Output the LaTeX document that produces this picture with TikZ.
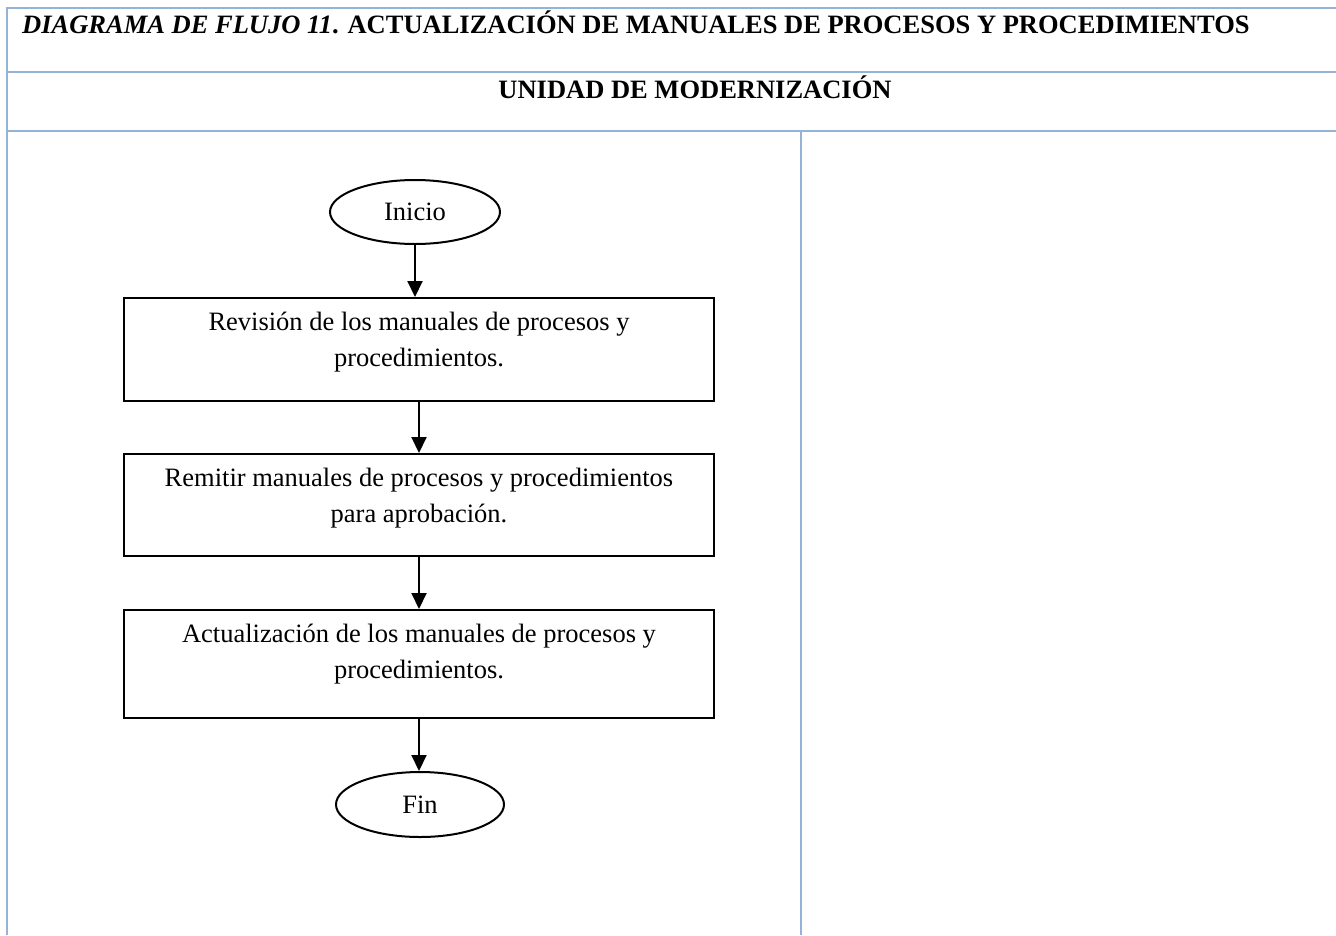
\documentclass[tikz,border=0pt]{standalone}
\usepackage{fontspec}
\setmainfont{Liberation Serif}
\usetikzlibrary{arrows.meta,shapes.geometric}
\definecolor{gridblue}{RGB}{149,179,215}
\tikzset{
  gridline/.style={draw=gridblue,line width=2.5pt},
  terminal/.style={ellipse,draw,line width=2pt,inner sep=0pt,font=\fontsize{26.5}{36}\selectfont},
  stepbox/.style={draw,line width=2pt,inner sep=0pt,font=\fontsize{26.5}{36}\selectfont},
  flow/.style={draw,line width=2pt,-{Triangle[width=15pt,length=16pt]}},
  headtext/.style={inner sep=0pt,font=\fontsize{26.5}{32}\selectfont\bfseries}
}
\newcommand{\boxtext}[2]{\parbox[c][#1pt][t]{590pt}{\centering\vspace*{14pt}#2\par}}
\begin{document}
\begin{tikzpicture}[x=1pt,y=-1pt]
\useasboundingbox (0,0) rectangle (1336,935);
% table
\draw[gridline] (7,8) -- (1336,8);
\draw[gridline] (7,72) -- (1336,72);
\draw[gridline] (7,131) -- (1336,131);
\draw[gridline] (7,7) -- (7,935);
\draw[gridline] (801,131) -- (801,935);
% headers
\node[headtext,anchor=base west] (title) at (22,33) {\textit{DIAGRAMA DE FLUJO 11}. ACTUALIZACIÓN DE MANUALES DE PROCESOS Y PROCEDIMIENTOS};
\node[headtext,anchor=base] (unit) at (695,98) {UNIDAD DE MODERNIZACIÓN};
% flow
\node[terminal,minimum width=170pt,minimum height=64pt] (inicio) at (415,212) {Inicio};
\node[stepbox] (b1) at (419,349.5) {\boxtext{103}{Revisión de los manuales de procesos y\\procedimientos.}};
\node[stepbox] (b2) at (419,505) {\boxtext{102}{Remitir manuales de procesos y procedimientos\\para aprobación.}};
\node[stepbox] (b3) at (419,664) {\boxtext{108}{Actualización de los manuales de procesos y\\procedimientos.}};
\node[terminal,minimum width=168pt,minimum height=65pt] (fin) at (420,804.5) {Fin};
\draw[flow] (inicio.south) -- (inicio.south |- b1.north);
\draw[flow] (b1.south) -- (b2.north);
\draw[flow] (b2.south) -- (b3.north);
\draw[flow] (b3.south) -- (b3.south |- fin.north);
\end{tikzpicture}
\end{document}
